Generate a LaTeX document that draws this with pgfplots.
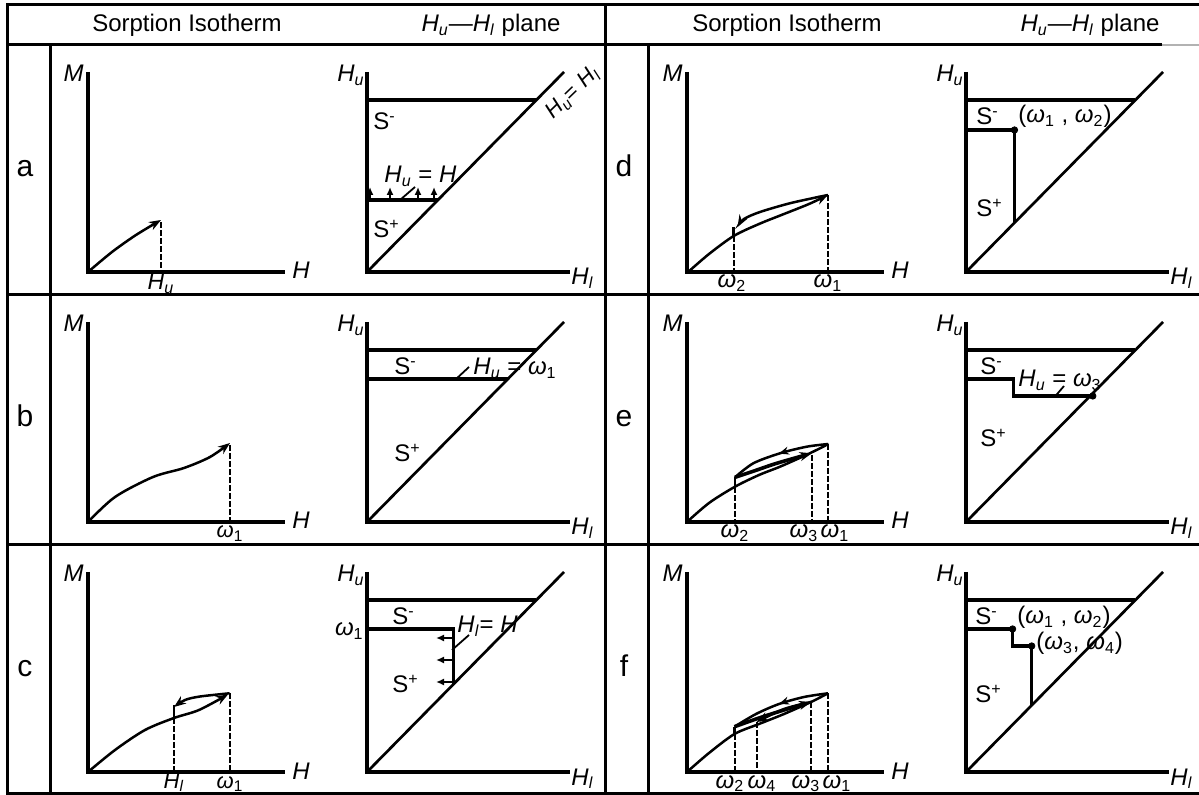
\documentclass[border=0pt]{standalone}
\usepackage{pgfplots}
\pgfplotsset{compat=1.18}
\usepackage{fontspec}
\setmainfont{Liberation Sans}
\usetikzlibrary{arrows.meta,decorations.markings}
\newcommand{\fsz}[1]{\fontsize{#1}{#1}\selectfont}
\newcommand{\T}[6]{\pgfmathsetmacro\tx{#1+#3}\pgfmathsetmacro\ty{#2+#4}\edef\tmp{\noexpand\node[inner sep=0pt,\unexpanded{#5}] at (axis cs:\tx,\ty) {\unexpanded{#6}};}\tmp}
\newcommand{\Hu}{\textit{H}\textsubscript{\textit{u}}}
\newcommand{\Hl}{\textit{H}\textsubscript{\textit{l}}}
\newcommand{\w}[1]{\textit{ω}\textsubscript{#1}}
\pgfplotsset{
 sh/.style 2 args={x filter/.expression={x+#1}, y filter/.expression={y+#2}},
 gl/.style={black,line width=1.5pt},
 ax/.style={black,line width=1.6pt},
 diag/.style={black,line width=1.35pt},
 cv/.style={black,line width=1.25pt,smooth},
 thk/.style={black,line width=1.8pt,smooth},
 dsh/.style={black,line width=1pt,dash pattern=on 3pt off 1pt},
 thn/.style={black,line width=0.9pt},
 arr/.style={-{Stealth[length=6pt,width=4.5pt]}},
 mid/.style={postaction={decorate},decoration={markings,mark=at position #1 with {\arrow{Stealth[length=5pt,width=4pt]}}}},
 dot/.style={only marks,mark=*,mark size=1.6pt,black},
}
\newcommand{\base}[2]{%
 \addplot[ax,sh={#1}{#2}] coordinates {(88,72)(88,272)(285,272)};
 \addplot[ax,sh={#1}{#2}] coordinates {(367,72)(367,272)(570,272)};
 \addplot[diag,sh={#1}{#2}] coordinates {(367,272)(564,72)};
 \addplot[ax,sh={#1}{#2}] coordinates {(367,100)(536,100)};
 \T{#1}{#2}{84}{82}{anchor=base east}{\textit{M}}
 \T{#1}{#2}{292}{279}{anchor=base west}{\textit{H}}
 \T{#1}{#2}{365}{82}{anchor=base east}{\Hu}
 \T{#1}{#2}{571}{285}{anchor=base west}{\Hl}
}
\begin{document}
\begin{tikzpicture}[font=\fsz{12}]
\begin{axis}[name=ax, scale only axis, width=599.5pt, height=397.5pt,
 xmin=0,xmax=1199,ymin=0,ymax=795, y dir=reverse, axis lines=none, ticks=none, clip=false]
% grid
\addplot[gl] coordinates {(1199,5)(7,5)(7,793)(1199,793)};
\addplot[gl] coordinates {(7,45)(1162,45)};
\addplot[gray!60,line width=0.8pt] coordinates {(1162,45)(1199,45)};
\addplot[gl] coordinates {(7,295)(1199,295)};
\addplot[gl] coordinates {(7,545)(1199,545)};
\addplot[gl] coordinates {(605,5)(605,793)};
\addplot[gl] coordinates {(50,45)(50,793)};
\addplot[gl] coordinates {(648,45)(648,793)};
\T{0}{0}{187}{32}{anchor=base}{Sorption Isotherm}
\T{0}{0}{491}{32}{anchor=base}{\Hu—\Hl{} plane}
\T{0}{0}{787}{32}{anchor=base}{Sorption Isotherm}
\T{0}{0}{1090}{32}{anchor=base}{\Hu—\Hl{} plane}
% bases
\base{0}{0}\base{0}{250}\base{0}{500}\base{599}{0}\base{599}{250}\base{599}{500}
\T{0}{0}{25}{177}{anchor=base}{\fsz{15}a}
\T{0}{250}{25}{177}{anchor=base}{\fsz{15}b}
\T{0}{500}{25}{177}{anchor=base}{\fsz{15}c}
\T{599}{0}{25}{177}{anchor=base}{\fsz{15}d}
\T{599}{250}{25}{177}{anchor=base}{\fsz{15}e}
\T{599}{500}{25}{177}{anchor=base}{\fsz{15}f}
% ---- cell a
\addplot[cv,arr,sh={0}{0}] coordinates {(88,272)(112,252)(136,235)(161,220)};
\addplot[dsh,sh={0}{0}] coordinates {(161,222)(161,272)};
\T{0}{0}{161}{290}{anchor=base}{\fsz{11.5}\Hu}
\addplot[ax,sh={0}{0}] coordinates {(367,200)(438,200)};
\addplot[thn,-{Latex[length=4pt,width=3.5pt]},sh={0}{0}] coordinates {(370,200)(370,187)};
\addplot[thn,-{Latex[length=4pt,width=3.5pt]},sh={0}{0}] coordinates {(390,200)(390,187)};
\addplot[thn,-{Latex[length=4pt,width=3.5pt]},sh={0}{0}] coordinates {(418,200)(418,187)};
\addplot[thn,-{Latex[length=4pt,width=3.5pt]},sh={0}{0}] coordinates {(434,200)(434,187)};
\addplot[thn,sh={0}{0}] coordinates {(400,200)(415,187)};
\T{0}{0}{384}{183}{anchor=base west}{\Hu{} = \textit{H}}
\T{0}{0}{373}{130}{anchor=base west}{S\textsuperscript{-}}
\T{0}{0}{373}{238}{anchor=base west}{S\textsuperscript{+}}
\T{0}{0}{573}{93}{anchor=center,rotate=44}{\fsz{11}\Hu= \Hl}
% ---- cell b
\addplot[cv,arr,sh={0}{250}] coordinates {(88,272)(115,247)(153,227)(184,218)(210,207)(230,193)};
\addplot[dsh,sh={0}{250}] coordinates {(230,195)(230,272)};
\T{0}{250}{230}{288}{anchor=base}{\fsz{11}\w{1}}
\addplot[ax,sh={0}{250}] coordinates {(367,129)(508,129)};
\T{0}{250}{394}{125}{anchor=base west}{S\textsuperscript{-}}
\T{0}{250}{394}{212}{anchor=base west}{S\textsuperscript{+}}
\T{0}{250}{473}{125}{anchor=base west}{\Hu{} = \w{1}}
\addplot[thn,sh={0}{250}] coordinates {(455,130)(469,117)};
% ---- cell c
\addplot[cv,arr,sh={0}{500}] coordinates {(88,272)(115,250)(145,230)(174,218)(199,210)(228,194.5)};
\addplot[cv,arr,sh={0}{500}] coordinates {(229.6,193.3)(200,196.5)(185,200)(174,207)};
\addplot[cv,sh={0}{500}] coordinates {(174,205)(174,218)};
\addplot[dsh,sh={0}{500}] coordinates {(174,218)(174,272)};
\addplot[dsh,sh={0}{500}] coordinates {(229.6,193)(229.6,272)};
\T{0}{500}{174}{288}{anchor=base}{\fsz{11}\Hl}
\T{0}{500}{230}{288}{anchor=base}{\fsz{11}\w{1}}
\addplot[ax,sh={0}{500}] coordinates {(367,129)(453.5,129)(453.5,184)};
\addplot[thn,-{Latex[length=4pt,width=3.5pt]},sh={0}{500}] coordinates {(453,138)(436,138)};
\addplot[thn,-{Latex[length=4pt,width=3.5pt]},sh={0}{500}] coordinates {(453,160)(436,160)};
\addplot[thn,-{Latex[length=4pt,width=3.5pt]},sh={0}{500}] coordinates {(453,182)(436,182)};
\T{0}{500}{364}{136}{anchor=base east}{\w{1}}
\T{0}{500}{457}{133}{anchor=base west}{\Hl= \textit{H}}
\addplot[thn,sh={0}{500}] coordinates {(452,150)(469,135)};
\T{0}{500}{392}{125}{anchor=base west}{S\textsuperscript{-}}
\T{0}{500}{392}{193}{anchor=base west}{S\textsuperscript{+}}
% ---- cell d
\addplot[cv,arr,sh={599}{0}] coordinates {(88,273)(110,254)(134.7,236)(160,224)(185,214)(210,204)(229,195)};
\addplot[cv,arr,sh={599}{0}] coordinates {(229,195)(192,203)(161,212)(145,219)(138.5,227)};
\addplot[cv,sh={599}{0}] coordinates {(134.7,227)(134.7,236)};
\addplot[dsh,sh={599}{0}] coordinates {(134.7,236)(134.7,273)};
\addplot[dsh,sh={599}{0}] coordinates {(229,195)(229,273)};
\T{599}{0}{133}{288}{anchor=base}{\fsz{12}\w{2}}
\T{599}{0}{229}{288}{anchor=base}{\fsz{12}\w{1}}
\addplot[ax,sh={599}{0}] coordinates {(367,130)(415.5,130)(415.5,223)};
\addplot[dot,sh={599}{0}] coordinates {(415.5,130)};
\T{599}{0}{419}{123}{anchor=base west}{(\w{1} , \w{2})}
\T{599}{0}{377}{125}{anchor=base west}{S\textsuperscript{-}}
\T{599}{0}{377}{217}{anchor=base west}{S\textsuperscript{+}}
% ---- cell e
\addplot[cv,sh={599}{250}] coordinates {(88,272)(110,253)(136,236.7)(160,225)(181,216.7)(205,206)(221,198.3)(229.3,194)};
\addplot[cv,mid=0.5,sh={599}{250}] coordinates {(229.3,194)(207.7,196.7)(181,203.3)(154.3,213.3)(136,227.3)};
\addplot[thk,arr,sh={599}{250}] coordinates {(136,227.3)(155,221)(177.7,213.3)(212.7,203.3)};
\addplot[cv,sh={599}{250}] coordinates {(136,227.3)(136,236.7)};
\addplot[dsh,sh={599}{250}] coordinates {(136,237)(136,273)};
\addplot[dsh,sh={599}{250}] coordinates {(212.7,205)(212.7,273)};
\addplot[dsh,sh={599}{250}] coordinates {(229.3,194)(229.3,273)};
\T{599}{250}{136}{288}{anchor=base}{\fsz{12}\w{2}}
\T{599}{250}{205}{288}{anchor=base}{\fsz{12}\w{3}}
\T{599}{250}{236}{288}{anchor=base}{\fsz{12}\w{1}}
\addplot[ax,sh={599}{250}] coordinates {(367,129)(414.3,129)(414.3,146)(492,146)};
\addplot[dot,sh={599}{250}] coordinates {(493.8,146)};
\T{599}{250}{419}{137}{anchor=base west}{\Hu{} = \w{3}}
\addplot[thn,sh={599}{250}] coordinates {(455.6,147)(465,136)};
\T{599}{250}{381}{125}{anchor=base west}{S\textsuperscript{-}}
\T{599}{250}{381}{197}{anchor=base west}{S\textsuperscript{+}}
% ---- cell f
\addplot[cv,sh={599}{500}] coordinates {(88,272)(110,253)(135.5,234)(160,224)(185,214)(212,202)(229,193.3)};
\addplot[cv,mid=0.5,sh={599}{500}] coordinates {(229,193.3)(205,197)(180,204)(157,214)(135.5,226.7)};
\addplot[thk,arr,sh={599}{500}] coordinates {(135.5,226.7)(160,218)(185,210)(212,202)};
\addplot[cv,arr,sh={599}{500}] coordinates {(212,202)(185,209)(157.6,222)};
\addplot[cv,sh={599}{500}] coordinates {(135.5,226.7)(135.5,234)};
\addplot[dsh,sh={599}{500}] coordinates {(135.5,234)(135.5,272)};
\addplot[dsh,sh={599}{500}] coordinates {(157.6,222)(157.6,272)};
\addplot[dsh,sh={599}{500}] coordinates {(212.2,202)(212.2,272)};
\addplot[dsh,sh={599}{500}] coordinates {(229,193.3)(229,272)};
\T{599}{500}{131}{288}{anchor=base}{\fsz{12}\w{2}}
\T{599}{500}{163}{288}{anchor=base}{\fsz{12}\w{4}}
\T{599}{500}{207}{288}{anchor=base}{\fsz{12}\w{3}}
\T{599}{500}{238}{288}{anchor=base}{\fsz{12}\w{1}}
\addplot[ax,sh={599}{500}] coordinates {(367,129)(413.6,129)(413.6,146)(432.7,146)(432.7,205.3)};
\addplot[dot,sh={599}{500}] coordinates {(413.6,129)(432.7,146)};
\T{599}{500}{418}{124}{anchor=base west}{(\w{1} , \w{2})}
\T{599}{500}{437}{150}{anchor=base west}{(\w{3}, \w{4})}
\T{599}{500}{376}{125}{anchor=base west}{S\textsuperscript{-}}
\T{599}{500}{376}{203}{anchor=base west}{S\textsuperscript{+}}
\end{axis}
\pgfresetboundingbox
\path[use as bounding box] (ax.south west) rectangle (ax.north east);
\end{tikzpicture}
\end{document}
